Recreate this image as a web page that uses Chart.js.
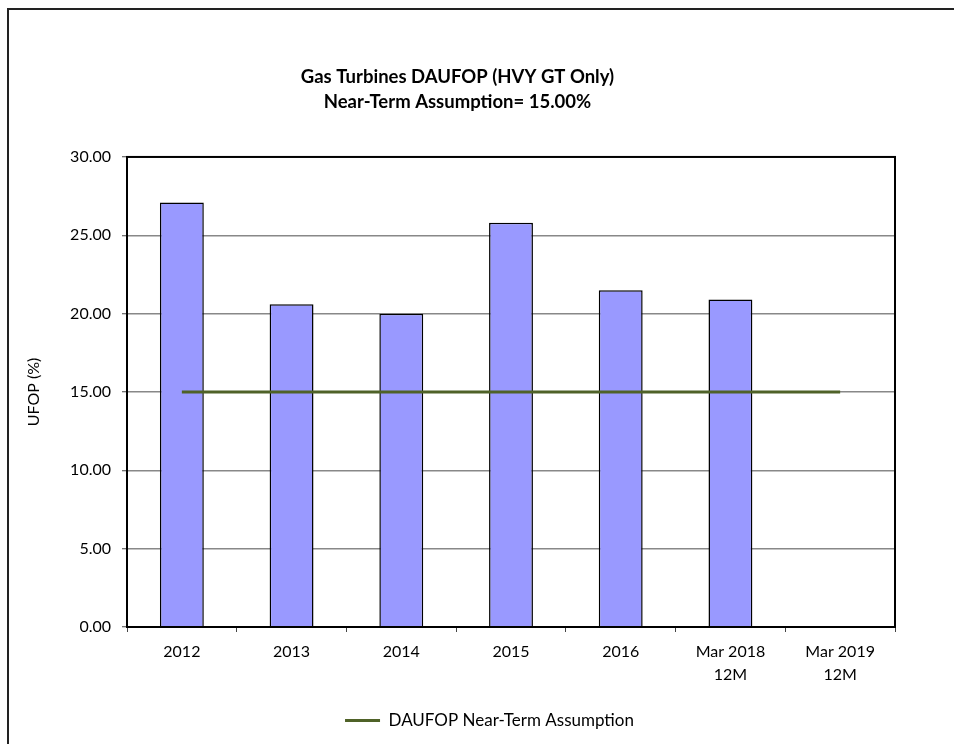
<!DOCTYPE html>
<html>
<head>
<meta charset="utf-8">
<script src="https://cdn.jsdelivr.net/npm/chart.js@4/dist/chart.umd.min.js"></script>
<style>
  html, body { margin: 0; padding: 0; background: #fff; overflow: hidden; }
  #wrap { position: relative; width: 954px; height: 744px; }
  #frame { position: absolute; left: 7px; top: 8px; width: 1000px; height: 800px; border: 2px solid #222; box-sizing: border-box; pointer-events: none; }
  canvas { position: absolute; left: 0; top: 0; }
</style>
</head>
<body>
<div id="wrap">
  <canvas id="myChart" width="954" height="744"></canvas>
  <div id="frame"></div>
</div>
<script>
const categories = ['2012', '2013', '2014', '2015', '2016', ['Mar 2018', '12M'], ['Mar 2019', '12M']]
const ufop = [27.1, 20.6, 20.0, 25.8, 21.5, 20.9, null]
const assumption = [15, 15, 15, 15, 15, 15, 15]
const titleLines = ['Gas Turbines DAUFOP (HVY GT Only)', 'Near-Term Assumption= 15.00%']

const fontName = 'Lato, "Noto Sans", sans-serif'

// black box round the plot area, like the spreadsheet chart
const plotFrame = {
    id: 'plotFrame',
    afterDatasetsDraw(chart) {
        const a = chart.chartArea
        const ctx = chart.ctx
        ctx.save()
        ctx.strokeStyle = '#000'
        ctx.lineWidth = 2
        ctx.strokeRect(a.left, a.top, a.right - a.left, a.bottom - a.top)
        ctx.restore()
    }
}

// legend sits a bit right of the title in the original
const shiftLegend = {
    id: 'shiftLegend',
    afterLayout(chart) {
        chart.legend.left += 32
        chart.legend.right += 32
    }
}

const ctx = document.getElementById('myChart').getContext('2d')
new Chart(ctx, {
    data: {
        labels: categories,
        datasets: [
            {
                type: 'line',
                label: 'DAUFOP Near-Term Assumption',
                data: assumption,
                borderColor: '#4F6228',
                backgroundColor: '#4F6228',
                borderWidth: 3,
                pointRadius: 0,
                tension: 0,
                order: 0
            },
            {
                type: 'bar',
                label: 'UFOP',
                data: ufop,
                backgroundColor: '#9999FF',
                borderColor: '#000',
                borderWidth: 1.5,
                barPercentage: 0.4,
                categoryPercentage: 1,
                order: 1
            }
        ]
    },
    options: {
        responsive: false,
        animation: false,
        layout: { padding: { left: 20, right: 59, top: 0, bottom: 5 } },
        plugins: {
            title: {
                display: true,
                text: titleLines,
                color: '#000',
                font: { family: fontName, size: 18.5, weight: 'bold', lineHeight: 1.35 },
                padding: { top: 64.5, bottom: 42.5 }
            },
            legend: {
                position: 'bottom',
                labels: {
                    color: '#000',
                    font: { family: fontName, size: 17 },
                    boxWidth: 35,
                    boxHeight: 3,
                    padding: 10,
                    filter: item => item.datasetIndex === 0,
                    generateLabels(chart) {
                        const items = Chart.defaults.plugins.legend.labels.generateLabels(chart)
                        items.forEach(it => { it.lineWidth = 0; it.fillStyle = '#4F6228' })
                        return items
                    }
                }
            },
            tooltip: { enabled: false }
        },
        scales: {
            x: {
                offset: true,
                grid: {
                    offset: true,
                    drawOnChartArea: false,
                    drawTicks: true,
                    tickLength: 5,
                    tickColor: '#444',
                    tickWidth: 1
                },
                border: { color: '#000', width: 2 },
                ticks: {
                    color: '#000',
                    font: { family: fontName, size: 16, lineHeight: 1.45 },
                    padding: 8,
                    maxRotation: 0,
                    autoSkip: false
                },
                afterFit(scale) { scale.height = 75 }
            },
            y: {
                min: 0,
                max: 30,
                ticks: {
                    stepSize: 5,
                    color: '#000',
                    font: { family: fontName, size: 16 },
                    padding: 11,
                    callback: v => v.toFixed(2)
                },
                grid: {
                    color: '#888',
                    lineWidth: 1.5,
                    tickLength: 5,
                    tickColor: '#444',
                    tickWidth: 1
                },
                border: { color: '#000', width: 2 },
                title: {
                    display: true,
                    text: 'UFOP (%)',
                    color: '#000',
                    font: { family: fontName, size: 16 },
                    padding: { top: 4, bottom: 0 }
                },
                afterFit(scale) { scale.width = 107 }
            }
        }
    },
    plugins: [plotFrame, shiftLegend]
})
</script>
</body>
</html>
